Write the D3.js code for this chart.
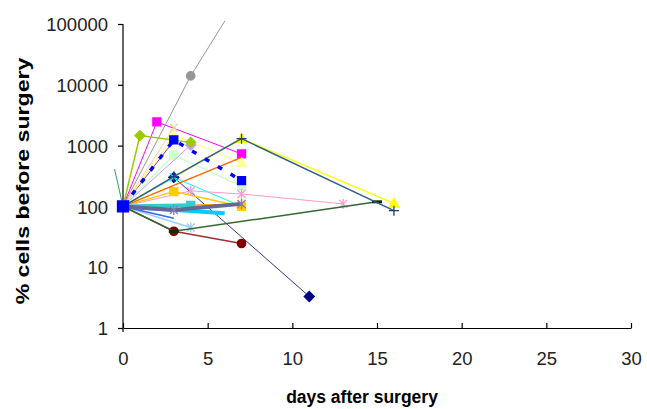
<!DOCTYPE html>
<html>
<head>
<meta charset="utf-8">
<script src="https://cdn.jsdelivr.net/npm/d3@7"></script>
<style>
  body { margin: 0; background: #fff; }
  text { font-family: "Liberation Sans", Arial, sans-serif; }
</style>
</head>
<body>
<script>
// tick labels
var xTicks = [0, 5, 10, 15, 20, 25, 30];
var yTicks = [1, 10, 100, 1000, 10000, 100000];

// one entry per patient: days after surgery / % of cells before surgery
var seriesDays = [
  [-0.5, 0],          // sea green, short line left of axis
  [0, 3, 11],         // navy
  [0, 2, 7],          // magenta
  [0, 7, 16],         // yellow
  [0, 3, 7],          // cyan
  [0, 3],             // purple
  [0, 3, 7],          // dark red
  [0, 3, 7],          // light green
  [0, 3, 7],          // light yellow
  [0, 4],             // pale blue
  [0, 4, 7, 13],      // rose
  [0, 4],             // lavender
  [0, 3],             // tan
  [0, 3],             // light blue
  [0, 1, 4],          // lime
  [0, 3, 7],          // gold
  [0, 7],             // light orange
  [0, 7],             // orange
  [0, 6],             // sky (thick)
  [0, 4],             // aqua (thick)
  [0, 3, 7],          // blue grey (thick)
  [0, 4, 7],          // grey
  [0, 3, 15],         // dark green
  [0, 3, 7, 16],      // steel blue
  [0, 3, 7]           // blue (dashed)
];
var seriesValues = [
  [410, 100],
  [100, 300, 3.3],
  [100, 2450, 730],
  [100, 1300, 112],
  [100, 300, 100],
  [100, 1200],
  [100, 39, 24.5],
  [100, 700, 215],
  [100, 1500, 524],
  [100, 45],
  [100, 180, 160, 110],
  [100, 1020],
  [100, 1970],
  [100, 64],
  [100, 1460, 1130],
  [100, 175, 100],
  [100, 108],
  [100, 640],
  [100, 77],
  [100, 104],
  [100, 87, 110],
  [100, 14000, 310000],
  [100, 39, 119],
  [100, 310, 1300, 85],
  [100, 1240, 265]
];

// look of each series (same order)
var seriesStyle = [
  {color: "#339966", w: 1, marker: "none"},
  {color: "#333399", w: 1, marker: "diamond", mcolor: "#000080"},
  {color: "#FF00FF", w: 1, marker: "square"},
  {color: "#FFFF00", w: 1.5, marker: "triangle"},
  {color: "#00FFFF", w: 1, marker: "x"},
  {color: "#993399", w: 1, marker: "none"},
  {color: "#993333", w: 1.5, marker: "circle", mcolor: "#800000"},
  {color: "#CCFFCC", w: 1.5, marker: "square"},
  {color: "#FFFF99", w: 1.5, marker: "triangle"},
  {color: "#99CCFF", w: 1.5, marker: "asterisk"},
  {color: "#FF99CC", w: 1, marker: "asterisk"},
  {color: "#CC99FF", w: 1, marker: "diamond"},
  {color: "#FFCC99", w: 1, marker: "x"},
  {color: "#3366FF", w: 1.5, marker: "none"},
  {color: "#99CC00", w: 1.5, marker: "diamond"},
  {color: "#FFCC00", w: 1.5, marker: "square"},
  {color: "#FF9900", w: 1.5, marker: "asterisk"},
  {color: "#FF6600", w: 1.5, marker: "none"},
  {color: "#00CCFF", w: 4, marker: "none"},
  {color: "#33CCCC", w: 4, marker: "square"},
  {color: "#666699", w: 4, marker: "asterisk", mcolor: "#8080B0"},
  {color: "#969696", w: 1, marker: "circle"},
  {color: "#336633", w: 1.5, marker: "dash", mcolor: "#003300"},
  {color: "#2F5F8F", w: 1.5, marker: "plus", mcolor: "#1F3F6F"},
  {color: "#0000FF", w: 3.5, marker: "square", dash: "5,10", big: true}
];

var W = 647, H = 409;

var x = d3.scaleLinear().domain([0, 30]).range([123, 631]);
var y = d3.scaleLog().domain([1, 100000]).range([328, 24]);

var svg = d3.select("body").append("svg")
    .attr("width", W)
    .attr("height", H);

svg.append("rect").attr("width", W).attr("height", H).attr("fill", "#fff");

// values above the top of the axis are cut off
svg.append("clipPath").attr("id", "plot")
  .append("rect")
    .attr("x", 0).attr("y", 21)
    .attr("width", W).attr("height", H - 21);

// axes
var yAxis = svg.append("g")
    .attr("transform", "translate(" + x(0) + ",0)")
    .call(d3.axisLeft(y).tickValues(yTicks).tickFormat(d3.format("d")).tickSize(5).tickSizeOuter(0));
yAxis.select(".domain").attr("d", "M0," + y(100000) + "V" + (y(1) + 4));

var xAxis = svg.append("g")
    .attr("transform", "translate(0," + y(1) + ")")
    .call(d3.axisBottom(x).tickValues(xTicks).tickSize(-5).tickSizeOuter(0));

[xAxis, yAxis].forEach(function(a) {
  a.selectAll("line, path").attr("stroke", "#000").attr("stroke-width", 1.2);
  a.selectAll("text")
      .style("font-size", "18.5px")
      .attr("fill", "#222");
});
yAxis.selectAll("text").attr("x", -15).attr("dy", "0.36em");
xAxis.selectAll("text").attr("y", 24).attr("dy", "0.71em");

// axis titles
svg.append("text")
    .attr("x", 362)
    .attr("y", 403)
    .attr("text-anchor", "middle")
    .style("font-size", "17.5px")
    .style("font-weight", "bold")
    .text("days after surgery");

// the reference is stretched vertically, so the rotated title is longer
svg.append("text")
    .attr("transform", "translate(29,181) rotate(-90) scale(1.25,1)")
    .attr("text-anchor", "middle")
    .style("font-size", "18.5px")
    .style("font-weight", "bold")
    .text("% cells before surgery");

// marker shapes
function markerPath(type, big) {
  if (type === "square" && big) return "M-5.5,-5.5H5.5V5.5H-5.5Z";
  switch (type) {
    case "square": return "M-4,-4H4V4H-4Z";
    case "diamond": return "M0,-5L5,0L0,5L-5,0Z";
    case "triangle": return "M0,-5L5,4H-5Z";
    case "circle": return d3.symbol(d3.symbolCircle, 55)();
    case "x": return "M-4,-4L4,4M-4,4L4,-4";
    case "asterisk": return "M-4,-4L4,4M-4,4L4,-4M0,-5V5";
    case "plus": return "M-5,0H5M0,-5V5";
    case "dash": return "M-5,0H5";
  }
  return null;
}
var stroked = {x: true, asterisk: true, plus: true, dash: true};

var line = d3.line()
    .x(function(d) { return x(d[0]); })
    .y(function(d) { return y(d[1]); });

var plot = svg.append("g").attr("clip-path", "url(#plot)");

seriesDays.forEach(function(days, i) {
  var pts = days.map(function(d, j) { return [d, seriesValues[i][j]]; });
  var s = seriesStyle[i];
  var g = plot.append("g").attr("class", "series");

  g.append("path")
      .datum(pts)
      .attr("fill", "none")
      .attr("stroke", s.color)
      .attr("stroke-width", s.w)
      .attr("stroke-dasharray", s.dash || null)
      .attr("d", line);

  if (s.marker === "none") return;
  var mc = s.mcolor || s.color;
  g.selectAll(".m")
      .data(pts)
    .enter().append("path")
      .attr("class", "m")
      .attr("transform", function(d) { return "translate(" + x(d[0]) + "," + y(d[1]) + ")"; })
      .attr("d", function(d, j) { return markerPath(s.marker, s.big && j === 0); })
      .attr("fill", stroked[s.marker] ? "none" : mc)
      .attr("stroke", mc)
      .attr("stroke-width", s.marker === "dash" ? 3 : 1.3);
});
</script>
</body>
</html>
